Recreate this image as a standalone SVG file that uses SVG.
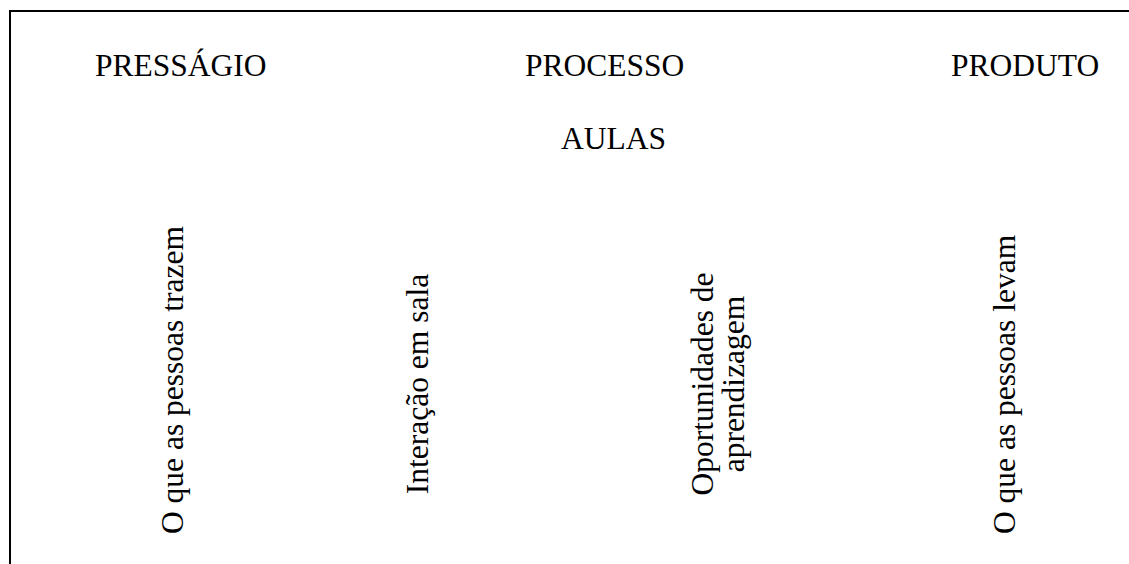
<svg xmlns="http://www.w3.org/2000/svg" width="1129" height="564" viewBox="0 0 1129 564">
<style>
.t{font-family:"Liberation Serif","Times New Roman",serif;font-size:31.5px;fill:#000}
.b{stroke:#000;stroke-width:2;fill:none}
</style>
<rect width="1129" height="564" fill="#fff"/>
<g id="frame"><path class="b" d="M10,566 V11 H1131"/></g>
<g id="pressagio"><text class="t" x="95" y="76">PRESSÁGIO</text></g>
<g id="processo"><text class="t" x="525" y="76">PROCESSO</text></g>
<g id="produto"><text class="t" x="951" y="76">PRODUTO</text></g>
<g id="aulas"><text class="t" x="561" y="149">AULAS</text></g>
<g id="trazem"><text class="t" transform="translate(183,534) rotate(-90)">O que as pessoas trazem</text></g>
<g id="interacao"><text class="t" transform="translate(428,384) rotate(-90)" text-anchor="middle">Interação em sala</text></g>
<g id="oportunidades"><text class="t" transform="translate(713,384) rotate(-90)" text-anchor="middle">Oportunidades de</text><text class="t" transform="translate(744,384) rotate(-90)" text-anchor="middle">aprendizagem</text></g>
<g id="levam"><text class="t" transform="translate(1015,534) rotate(-90)">O que as pessoas levam</text></g>
<g id="connectors"></g>
</svg>
